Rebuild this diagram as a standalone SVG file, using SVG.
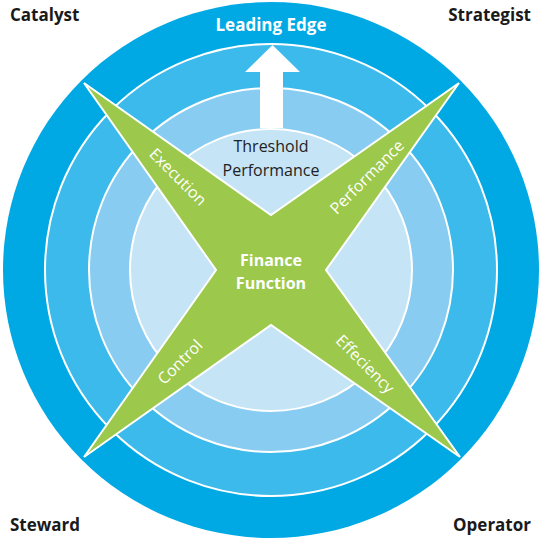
<svg xmlns="http://www.w3.org/2000/svg" width="540" height="540" viewBox="0 0 540 540">
  <style>
    .ring { stroke: #ffffff; stroke-width: 2; }
    .corner { font-family: "Open Sans", "Liberation Sans", sans-serif; font-weight: bold; font-size: 17px; fill: #1a1a1a; }
    .lead { font-family: "Open Sans", "Liberation Sans", sans-serif; font-weight: bold; font-size: 17px; fill: #ffffff; text-anchor: middle; }
    .thresh { font-family: "Open Sans", "Liberation Sans", sans-serif; font-size: 16px; fill: #222222; text-anchor: middle; }
    .center { font-family: "Open Sans", "Liberation Sans", sans-serif; font-weight: bold; font-size: 16px; fill: #ffffff; text-anchor: middle; }
    .arm { font-family: "Open Sans", "Liberation Sans", sans-serif; font-size: 16px; fill: #ffffff; text-anchor: middle; }
  </style>
  <rect width="540" height="540" fill="#ffffff"/>
  <g id="rings">
    <circle cx="271" cy="270" r="268" fill="#00A9E4"/>
    <circle class="ring" cx="271" cy="270" r="226" fill="#3CBAEB"/>
    <circle class="ring" cx="271" cy="270" r="182" fill="#89CCF1"/>
    <circle class="ring" cx="271" cy="270" r="141" fill="#C5E4F6"/>
  </g>
  <g id="connectors">
    <polygon points="272.5,45 300,72 283,72 283,128 260,128 260,72 245,72" fill="#ffffff"/>
  </g>
  <g id="finance-function">
    <polygon points="84,83 271,215 459,83 326,270 460,457 271,325 84,457 216,270" fill="#9CC94B" stroke="#ffffff" stroke-width="2" stroke-linejoin="miter"/>
    <text class="center" x="271" y="266">Finance</text>
    <text class="center" x="271" y="289">Function</text>
  </g>
  <g id="execution"><text class="arm" transform="translate(178,177) rotate(45)" y="5.5">Execution</text></g>
  <g id="performance"><text class="arm" transform="translate(367,177) rotate(-45)" y="5.5">Performance</text></g>
  <g id="control"><text class="arm" transform="translate(180,362) rotate(-45)" y="5.5">Control</text></g>
  <g id="effeciency"><text class="arm" transform="translate(365,364) rotate(45)" y="5.5">Effeciency</text></g>
  <g id="threshold-performance">
    <text class="thresh" x="271" y="152">Threshold</text>
    <text class="thresh" x="271" y="176">Performance</text>
  </g>
  <g id="leading-edge"><text class="lead" x="271" y="31">Leading Edge</text></g>
  <g id="catalyst"><text class="corner" x="10" y="21">Catalyst</text></g>
  <g id="strategist"><text class="corner" x="531" y="21" text-anchor="end">Strategist</text></g>
  <g id="steward"><text class="corner" x="10" y="531">Steward</text></g>
  <g id="operator"><text class="corner" x="531" y="531" text-anchor="end">Operator</text></g>
</svg>
